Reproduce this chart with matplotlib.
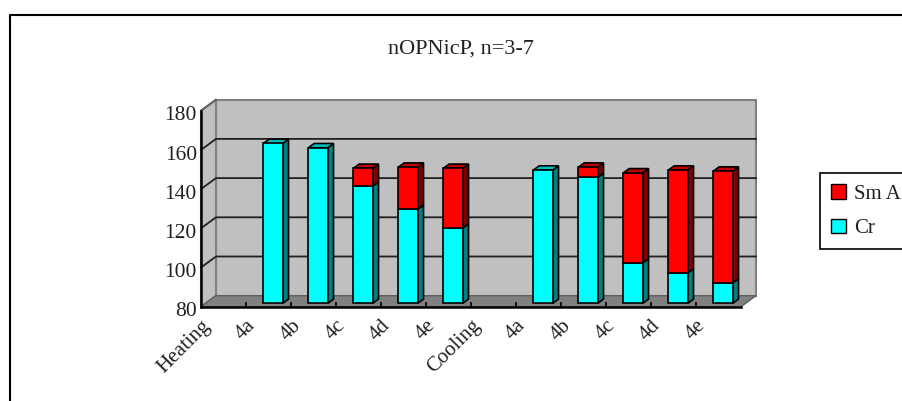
import numpy as np
import matplotlib
matplotlib.use("Agg")
import matplotlib.pyplot as plt
from matplotlib.patches import Polygon, Patch
from matplotlib.transforms import ScaledTranslation

plt.rcParams['font.family'] = ['Liberation Serif', 'DejaVu Serif']

# du lieu doc tu hinh
labels = ["Heating", "4a", "4b", "4c", "4d", "4e", "Cooling", "4a", "4b", "4c", "4d", "4e"]
cr = [np.nan, 161.6, 159.4, 139.8, 128.0, 118.4, np.nan, 148.0, 144.3, 100.7, 95.5, 90.4]
sm_a_top = [np.nan, 161.6, 159.4, 148.9, 149.5, 148.9, np.nan, 148.0, 149.5, 146.6, 148.0, 147.5]
yticks = [80, 100, 120, 140, 160, 180]

W, H = 902, 401
fig = plt.figure(figsize=(W / 100, H / 100), dpi=100)
# khung ngoai
fig.add_artist(plt.Line2D([10 / W, 10 / W, 1], [0, 1 - 15 / H, 1 - 15 / H], color="black", lw=1.5))

ax = fig.add_axes([201 / W, 1 - 306.7 / H, 540 / W, 196 / H])
ax.set_xlim(0, 12)
ax.set_ylim(80, 180)
ax.patch.set_visible(False)

# huong chieu sau: 15px ngang, 11px doc, doi sang don vi du lieu
DX = 15 / 45
DY = 11 / 1.96


def depth(x, y, d):
    return (x + d * DX, y + d * DY)


def poly(pts, fc, ec="black", lw=1.2, z=1):
    ax.add_patch(Polygon(pts, closed=True, fc=fc, ec=ec, lw=lw, zorder=z, clip_on=False))


# tuong sau, tuong trai, san
poly([depth(0, 80, 1), depth(12, 80, 1), depth(12, 180, 1), depth(0, 180, 1)], "#c0c0c0", "#808080", 1.5)
poly([depth(0, 80, 0), depth(0, 80, 1), depth(0, 180, 1), depth(0, 180, 0)], "#c0c0c0", "#808080", 1.5)
poly([depth(0, 80, 0), depth(12, 80, 0), depth(12, 80, 1), depth(0, 80, 1)], "#808080", "#606060", 1.0, 1.5)

for v in yticks[1:-1]:
    xs, ys = zip(depth(0, v, 0), depth(0, v, 1), depth(12, v, 1))
    ax.plot(xs, ys, color="#202020", lw=1.3, zorder=2, clip_on=False)
xs, ys = zip(depth(0, 180, 0), depth(0, 180, 1))
ax.plot(xs, ys, color="#606060", lw=1.3, zorder=2, clip_on=False)


def box(x0, x1, y0, y1, front, side, top, has_top=True, d0=0.3, d1=0.69):
    # mat ben, mat tren, mat truoc
    poly([depth(x1, y0, d0), depth(x1, y0, d1), depth(x1, y1, d1), depth(x1, y1, d0)], side, z=3)
    if has_top:
        poly([depth(x0, y1, d0), depth(x1, y1, d0), depth(x1, y1, d1), depth(x0, y1, d1)], top, z=3)
    poly([depth(x0, y0, d0), depth(x1, y0, d0), depth(x1, y1, d0), depth(x0, y1, d0)], front, z=3)


bar_w = 0.43
for i in range(len(labels)):
    if np.isnan(cr[i]):
        continue
    x0 = i + 0.5 - bar_w / 2
    x1 = x0 + bar_w
    has_red = sm_a_top[i] > cr[i]
    box(x0, x1, 80, cr[i], "#00ffff", "#008080", "#00c0c0", has_top=not has_red)
    if has_red:
        box(x0, x1, cr[i], sm_a_top[i], "#ff0000", "#800000", "#c00000")

for s in ["top", "right"]:
    ax.spines[s].set_visible(False)
for s in ["left", "bottom"]:
    ax.spines[s].set_linewidth(1.8)
    ax.spines[s].set_zorder(5)

ax.set_yticks(yticks)
ax.tick_params(axis="y", length=0, pad=3, labelsize=15.5, labelcolor="#202020")
# nhan truc y thap hon vach mot chut
for t in ax.get_yticklabels():
    t.set_transform(t.get_transform() + ScaledTranslation(0, -2 / 72, fig.dpi_scale_trans))

# vach o ranh gioi nhom, nhan nam o vach minor (trung vi tri nen phai tat loc)
ax.xaxis.remove_overlapping_locs = False
ax.set_xticks(np.arange(1, 12))
ax.set_xticklabels([])
ax.tick_params(axis="x", which="major", direction="in", length=3.5, width=1.2, color="black", zorder=2)
ax.set_xticks(np.arange(12), minor=True)
ax.set_xticklabels(labels, minor=True, rotation=45, ha="right", va="top", rotation_mode="anchor", fontsize=15, color="#202020")
ax.tick_params(axis="x", which="minor", length=0, pad=7)

fig.text(461 / W, 1 - 49 / H, "nOPNicP, n=3-7", ha="center", va="center", fontsize=16, color="#202020")

# chu thich
handles = [Patch(fc="#ff0000", ec="black", label="Sm A"), Patch(fc="#00ffff", ec="black", label="Cr")]
leg = fig.legend(handles=handles, loc="upper left", bbox_to_anchor=(820 / W, 1 - 173 / H), borderaxespad=0,
                 fontsize=15, fancybox=False, framealpha=1, edgecolor="black", handlelength=0.72,
                 handleheight=0.72, handletextpad=0.38, labelspacing=0.72, borderpad=0.52, labelcolor="#202020")
leg.get_frame().set_linewidth(1.2)

fig.savefig("out.png", dpi=100)
